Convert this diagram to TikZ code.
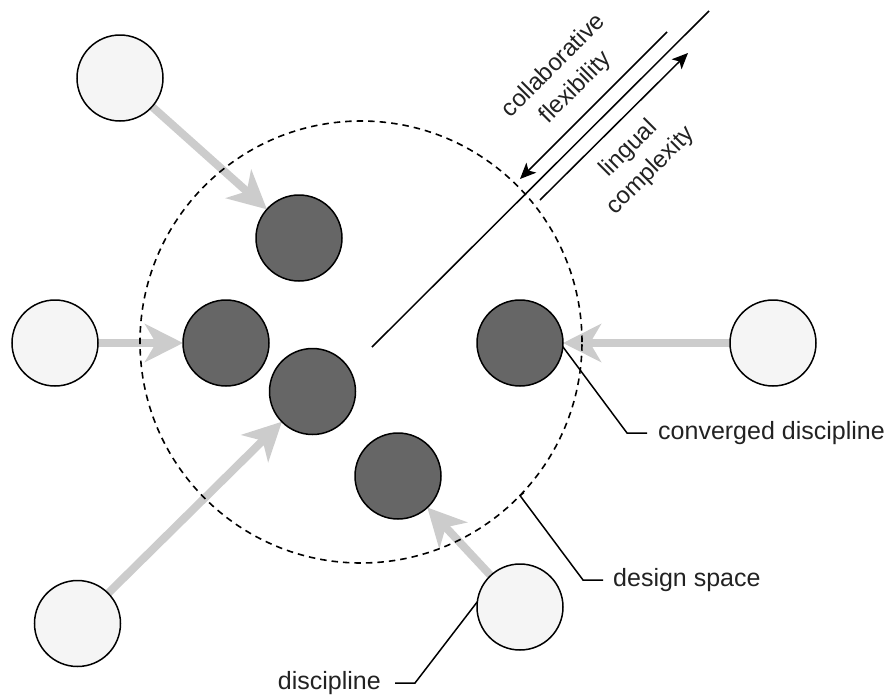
\documentclass[tikz,border=0pt]{standalone}
\usepackage{fontspec}
\setmainfont{Liberation Sans}
\usetikzlibrary{arrows.meta,backgrounds}
\definecolor{lightfill}{HTML}{F5F5F5}
\definecolor{darkfill}{HTML}{666666}
\definecolor{arrowgray}{HTML}{CCCCCC}
\definecolor{txt}{HTML}{222222}
\begin{document}
\begin{tikzpicture}[x=1pt,y=-1pt,
  disc/.style={circle,draw=black,line width=1.5pt,minimum size=86pt,inner sep=0pt,outer sep=0pt},
  lightdisc/.style={disc,fill=lightfill},
  darkdisc/.style={disc,fill=darkfill},
  flow/.style={draw=arrowgray,line width=8pt,-{Stealth[length=38pt,width=38pt,inset=11pt]}},
  spacering/.style={circle,draw=black,line width=1.6pt,dash pattern=on 6.5pt off 5pt,minimum size=442pt,inner sep=0pt,outer sep=0pt},
  axisline/.style={draw=black,line width=1.5pt},
  axisarrow/.style={draw=black,line width=1.5pt,-{Stealth[length=16pt,width=14pt,inset=4pt]}},
  callout/.style={draw=black,line width=1.5pt},
  label/.style={text=txt,inner sep=0pt,font=\fontsize{25}{29}\selectfont},
  axislabel/.style={text=txt,inner sep=0pt,align=center,rotate=45,font=\fontsize{24}{31}\selectfont}
]
\useasboundingbox (0,0) rectangle (892,697);

% outer disciplines
\node[lightdisc] (oTL) at (120,78) {};
\node[lightdisc] (oML) at (55,343) {};
\node[lightdisc] (oBL) at (77.5,623.5) {};
\node[lightdisc] (oBR) at (520,607) {};
\node[lightdisc] (oR)  at (773,343) {};

% converged disciplines
\node[darkdisc] (dT) at (299,238) {};
\node[darkdisc] (dML) at (226,343) {};
\node[darkdisc] (dC) at (312.5,391.5) {};
\node[darkdisc] (dB) at (398,476) {};
\node[darkdisc] (dR) at (520,343) {};

% flows
\begin{scope}[on background layer]
\draw[flow] (oTL) -- (dT);
\draw[flow] (oML) -- (dML);
\draw[flow] (oBL) -- (dC);
\draw[flow] (oBR) -- (dB);
\draw[flow] (oR) -- (dR);
\end{scope}

% design space
\node[spacering] (space) at (361,342) {};

% axis
\coordinate (l1) at (372,347);
\coordinate (l2) at (709,11);
\draw[axisline] (l1) -- (l2);
\coordinate (a1s) at (667,32);
\coordinate (a1e) at (520,179);
\draw[axisarrow] (a1s) -- (a1e);
\coordinate (a2s) at (540,200);
\coordinate (a2e) at (688,53);
\draw[axisarrow] (a2s) -- (a2e);

\node[axislabel] (collab) at (565,77) {collaborative\\flexibility};
\node[axislabel] (lingual) at (640,160) {lingual\\complexity};

% callouts
\node[label,anchor=west] (conv) at (658,433) {converged discipline};
\coordinate (c1) at (627,433);
\draw[callout] (dR.-5) -- (c1) -- ([xshift=-11pt]conv.west);

\node[label,anchor=west] (dspace) at (613,580) {design space};
\coordinate (s1) at (583,580);
\draw[callout] ([shift={(4,-3)}]space.-44) -- (space.-44) -- (s1) -- ([xshift=-10pt]dspace.west);

\node[label,anchor=east] (disc) at (381,683) {discipline};
\coordinate (d1) at (415,683);
\draw[callout] (oBR.173) -- (d1) -- ([xshift=14pt]disc.east);
\end{tikzpicture}
\end{document}
